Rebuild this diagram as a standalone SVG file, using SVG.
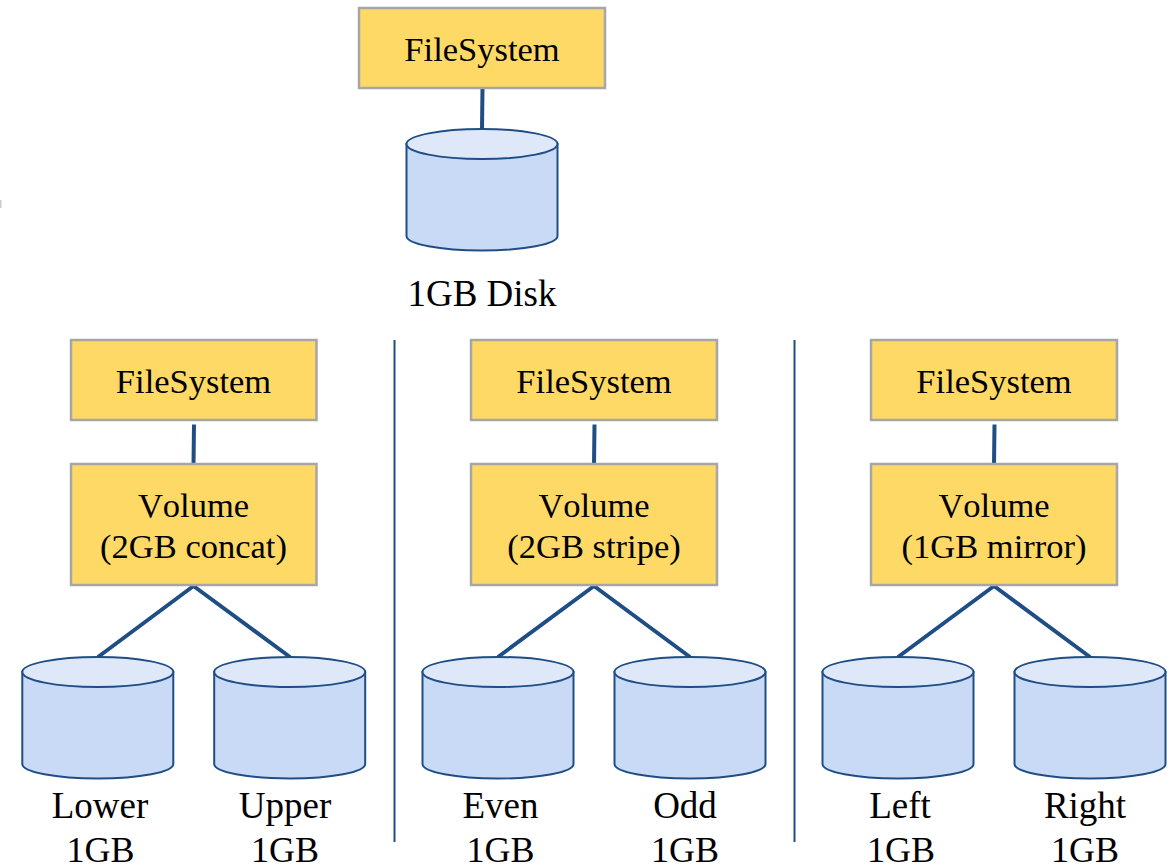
<svg xmlns="http://www.w3.org/2000/svg" width="1175" height="868" viewBox="0 0 1175 868">
<style>
.box{fill:#ffd966;stroke:#a6a6a6;stroke-width:2.500}
.side{fill:#c9daf6;stroke:#1f4e86;stroke-width:2}
.top{fill:#dfe8f9;stroke:#1f4e86;stroke-width:2}
.con{fill:none;stroke:#1f4e86;stroke-width:4}
.sep{fill:none;stroke:#1f4e86;stroke-width:2}
text{font-family:"Liberation Serif","Times New Roman",serif;font-size:37px;fill:#000;text-anchor:middle;font-kerning:none}
.in{font-size:34.500px}
.gb{font-size:36px}
</style>
<defs>
<g id="cyl">
<path class="side" d="M-75.500 0V92C-75.500 100-42 106.500 0 106.500S75.500 100 75.500 92V0Z"/>
<ellipse class="top" cx="0" cy="0" rx="75.500" ry="15"/>
</g>
</defs>
<rect x="0" y="200" width="1.500" height="8" fill="#cccccc"/>
<g id="connectors">
<path class="con" d="M482.500 88L482 129"/>
<path class="con" d="M194 424.500L193.500 465M193.500 586L98 657M193.500 586L290 657"/>
<path class="con" d="M594.500 424.500L594 465M594 586L498 657M594 586L690 657"/>
<path class="con" d="M994.500 424.500L994 465M994 586L898 657M994 586L1090 657"/>
<path class="sep" d="M394.500 340V842M794.500 340V842"/>
</g>
<g id="fs-top"><rect class="box" x="359" y="8" width="246" height="80"/><text class="in" x="482" y="61">FileSystem</text></g>
<g id="disk-top"><use href="#cyl" x="482" y="144"/><text x="482" y="306">1GB Disk</text></g>
<g id="fs-concat"><rect class="box" x="71" y="340" width="245.500" height="80"/><text class="in" x="193.500" y="393">FileSystem</text></g>
<g id="vol-concat"><rect class="box" x="71" y="464" width="245.500" height="121"/><text class="in" x="193.500" y="517">Volume</text><text class="in" x="193.500" y="558">(2GB concat)</text></g>
<g id="disk-lower"><use href="#cyl" x="97.800" y="672"/><text x="100" y="818">Lower</text><text class="gb" x="100.500" y="862">1GB</text></g>
<g id="disk-upper"><use href="#cyl" x="289.700" y="672"/><text x="285" y="818">Upper</text><text class="gb" x="285" y="862">1GB</text></g>
<g id="fs-stripe"><rect class="box" x="471" y="340" width="246" height="80"/><text class="in" x="594" y="393">FileSystem</text></g>
<g id="vol-stripe"><rect class="box" x="471" y="464" width="246" height="121"/><text class="in" x="594" y="517">Volume</text><text class="in" x="594" y="558">(2GB stripe)</text></g>
<g id="disk-even"><use href="#cyl" x="498" y="672"/><text x="500.500" y="818">Even</text><text class="gb" x="500.500" y="862">1GB</text></g>
<g id="disk-odd"><use href="#cyl" x="690" y="672"/><text x="685" y="818">Odd</text><text class="gb" x="685" y="862">1GB</text></g>
<g id="fs-mirror"><rect class="box" x="871" y="340" width="246" height="80"/><text class="in" x="994" y="393">FileSystem</text></g>
<g id="vol-mirror"><rect class="box" x="871" y="464" width="246" height="121"/><text class="in" x="994" y="517">Volume</text><text class="in" x="994" y="558">(1GB mirror)</text></g>
<g id="disk-left"><use href="#cyl" x="898" y="672"/><text x="900" y="818">Left</text><text class="gb" x="901" y="862">1GB</text></g>
<g id="disk-right"><use href="#cyl" x="1090" y="672"/><text x="1085" y="818">Right</text><text class="gb" x="1085" y="862">1GB</text></g>
</svg>
